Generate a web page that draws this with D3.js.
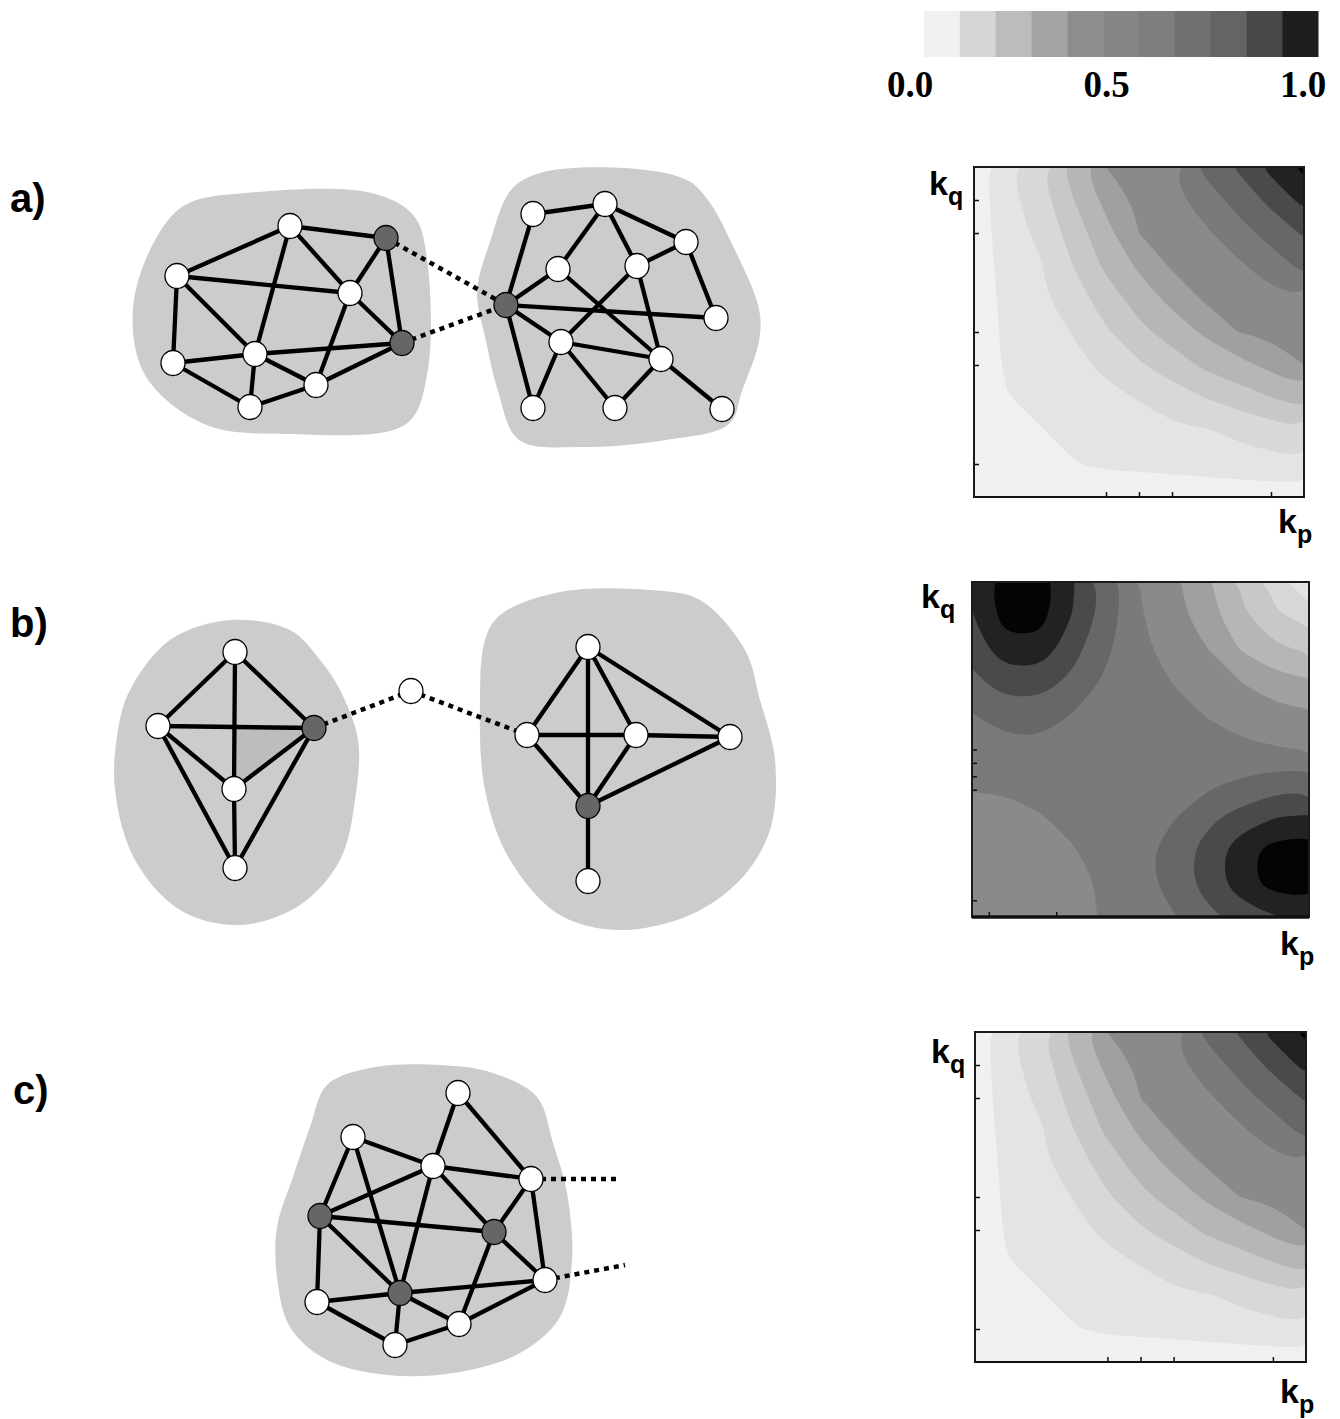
<!DOCTYPE html>
<html>
<head>
<meta charset="utf-8">
<script src="https://cdn.jsdelivr.net/npm/d3@7/dist/d3.min.js"></script>
<style>
  body { margin: 0; background: #fff; }
  svg { display: block; }
</style>
</head>
<body>
<div class="chart"></div>
<script>
// ---- colour legend ----
const legendColors = ['#f1f1f1', '#d6d6d6', '#bcbcbc', '#a4a4a4', '#8d8d8d', '#858585',
                      '#7e7e7e', '#717171', '#646464', '#484848', '#1e1e1e'];
const legendTicks = [0, 0.5, 1];
const legendLabels = ['0.0', '0.5', '1.0'];

// ---- contour maps (rows: k_q from top to bottom, columns: k_p left to right) ----
const bandThresholds = d3.range(1, 12).map(k => k / 12);
const bandColors = ['#f0f0f0', '#e4e4e4', '#d8d8d8', '#c8c8c8', '#b6b6b6', '#a0a0a0',
                    '#8a8a8a', '#7a7a7a', '#676767', '#4a4a4a', '#222222', '#040404'];

const gridA = [
  [0.04, 0.15, 0.24, 0.37, 0.50, 0.54, 0.58, 0.69, 0.76, 0.86, 0.94],
  [0.03, 0.14, 0.21, 0.33, 0.44, 0.52, 0.56, 0.62, 0.70, 0.77, 0.86],
  [0.02, 0.14, 0.18, 0.29, 0.39, 0.50, 0.53, 0.57, 0.63, 0.70, 0.76],
  [0.01, 0.13, 0.16, 0.25, 0.35, 0.43, 0.51, 0.54, 0.57, 0.62, 0.69],
  [0, 0.12, 0.15, 0.21, 0.29, 0.37, 0.44, 0.51, 0.53, 0.56, 0.58],
  [0, 0.11, 0.13, 0.17, 0.24, 0.31, 0.37, 0.43, 0.50, 0.52, 0.54],
  [0, 0.10, 0.12, 0.15, 0.18, 0.24, 0.29, 0.35, 0.39, 0.44, 0.50],
  [0, 0.08, 0.10, 0.12, 0.15, 0.17, 0.21, 0.25, 0.29, 0.33, 0.37],
  [0, 0.06, 0.08, 0.10, 0.12, 0.13, 0.15, 0.16, 0.18, 0.21, 0.24],
  [0, 0.03, 0.06, 0.08, 0.10, 0.11, 0.12, 0.13, 0.14, 0.14, 0.15],
  [0, 0, 0, 0, 0, 0, 0, 0.01, 0.02, 0.03, 0.04]
];
const gridB = [
  [0.84, 0.97, 0.97, 0.84, 0.72, 0.58, 0.52, 0.43, 0.32, 0.22, 0.08],
  [0.83, 0.95, 0.95, 0.83, 0.71, 0.59, 0.53, 0.45, 0.35, 0.26, 0.22],
  [0.78, 0.89, 0.89, 0.78, 0.68, 0.60, 0.55, 0.50, 0.41, 0.35, 0.32],
  [0.73, 0.78, 0.78, 0.73, 0.65, 0.62, 0.58, 0.54, 0.50, 0.45, 0.43],
  [0.66, 0.71, 0.71, 0.66, 0.64, 0.63, 0.61, 0.58, 0.55, 0.53, 0.52],
  [0.63, 0.63, 0.64, 0.64, 0.63, 0.63, 0.63, 0.62, 0.60, 0.59, 0.58],
  [0.59, 0.59, 0.61, 0.63, 0.63, 0.63, 0.64, 0.65, 0.68, 0.71, 0.72],
  [0.57, 0.57, 0.58, 0.60, 0.63, 0.64, 0.66, 0.73, 0.78, 0.83, 0.84],
  [0.56, 0.56, 0.57, 0.58, 0.61, 0.64, 0.71, 0.78, 0.89, 0.95, 0.97],
  [0.55, 0.55, 0.56, 0.57, 0.59, 0.63, 0.71, 0.78, 0.89, 0.95, 0.97],
  [0.53, 0.55, 0.56, 0.57, 0.59, 0.63, 0.66, 0.73, 0.78, 0.83, 0.84]
];
// panel c looks the same as panel a
const gridC = gridA;

const kpTicksA = [0.4, 0.5, 0.6, 0.9];
const kqTicksA = [0.1, 0.4, 0.5, 0.8, 0.9];
const kpTicksB = [0.05, 0.25];
const kqTicksB = [0.05, 0.38, 0.42, 0.46, 0.5];

// ---- networks (units of 10px inside each panel) ----
const nodesA = [
  { id: 'L1', x: 19.0, y: 6.6 }, { id: 'L2', x: 28.6, y: 7.8, hub: true },
  { id: 'L3', x: 7.7, y: 11.6 }, { id: 'L4', x: 25.0, y: 13.3 },
  { id: 'L5', x: 30.2, y: 18.3, hub: true }, { id: 'L6', x: 15.5, y: 19.4 },
  { id: 'L7', x: 7.3, y: 20.3 }, { id: 'L8', x: 21.6, y: 22.5 }, { id: 'L9', x: 15.0, y: 24.7 },
  { id: 'R1', x: 43.3, y: 5.4 }, { id: 'R2', x: 50.5, y: 4.4 }, { id: 'R3', x: 58.6, y: 8.2 },
  { id: 'R4', x: 45.8, y: 10.9 }, { id: 'R5', x: 53.7, y: 10.6 },
  { id: 'R6', x: 40.6, y: 14.5, hub: true }, { id: 'R7', x: 61.6, y: 15.8 },
  { id: 'R8', x: 46.1, y: 18.2 }, { id: 'R9', x: 56.1, y: 19.9 },
  { id: 'R10', x: 43.3, y: 24.8 }, { id: 'R11', x: 51.5, y: 24.8 }, { id: 'R12', x: 62.2, y: 24.9 }
];
const edgesA = [
  ['L3', 'L1'], ['L1', 'L2'], ['L3', 'L4'], ['L3', 'L6'], ['L3', 'L7'], ['L1', 'L6'],
  ['L1', 'L4'], ['L2', 'L4'], ['L2', 'L5'], ['L4', 'L5'], ['L4', 'L8'], ['L6', 'L5'],
  ['L7', 'L6'], ['L7', 'L9'], ['L6', 'L9'], ['L6', 'L8'], ['L9', 'L8'], ['L8', 'L5'],
  ['R1', 'R2'], ['R1', 'R6'], ['R2', 'R3'], ['R2', 'R4'], ['R2', 'R5'], ['R3', 'R5'],
  ['R3', 'R7'], ['R4', 'R6'], ['R4', 'R9'], ['R5', 'R8'], ['R5', 'R9'], ['R6', 'R7'],
  ['R6', 'R8'], ['R6', 'R10'], ['R8', 'R9'], ['R8', 'R10'], ['R8', 'R11'], ['R9', 'R11'], ['R9', 'R12']
];
const dashesA = [['L2', 'R6'], ['L5', 'R6']];
const blobsA = [
  [[8.5, 4.5], [14.6, 3.3], [27.2, 3.3], [31.4, 5.6], [32.7, 9.9], [32.7, 21.5], [30.6, 26.4],
   [18.8, 27.4], [10.4, 26.4], [4.5, 21.5], [3.3, 14.9], [5.4, 8.2]],
  [[41.1, 3.0], [44.0, 1.3], [52.4, 0.8], [58.7, 2.0], [60.8, 4.0], [63.3, 8.6], [65.9, 14.9],
   [65.9, 18.1], [64.2, 23.1], [62.9, 26.4], [56.6, 28.0], [48.2, 28.7], [41.9, 28.0],
   [39.8, 23.1], [38.6, 18.1], [37.7, 13.2], [39.0, 8.2]]
];

const nodesB = [
  { id: 'B1', x: 13.5, y: 7.2 }, { id: 'B2', x: 5.8, y: 14.6 }, { id: 'B3', x: 21.4, y: 14.8, hub: true },
  { id: 'B4', x: 13.4, y: 20.9 }, { id: 'B5', x: 13.5, y: 28.8 },
  { id: 'M', x: 31.1, y: 11.1 },
  { id: 'C1', x: 42.7, y: 15.5 }, { id: 'C2', x: 48.8, y: 6.7 }, { id: 'C3', x: 53.6, y: 15.5 },
  { id: 'C4', x: 63.0, y: 15.7 }, { id: 'C5', x: 48.8, y: 22.6, hub: true }, { id: 'C6', x: 48.8, y: 30.1 }
];
const edgesB = [
  ['B1', 'B2'], ['B1', 'B3'], ['B1', 'B4'], ['B2', 'B3'], ['B2', 'B4'], ['B3', 'B4'],
  ['B2', 'B5'], ['B3', 'B5'], ['B4', 'B5'],
  ['C2', 'C1'], ['C2', 'C5'], ['C2', 'C3'], ['C2', 'C4'], ['C1', 'C3'], ['C3', 'C4'],
  ['C1', 'C5'], ['C3', 'C5'], ['C4', 'C5'], ['C5', 'C6']
];
const dashesB = [['B3', 'M'], ['M', 'C1']];
const blobsB = [
  [[3.0, 11.0], [7.0, 6.0], [13.0, 4.0], [19.0, 5.0], [22.0, 8.0], [24.0, 11.0], [25.8, 16.0],
   [25.5, 22.0], [24.0, 28.0], [20.0, 32.5], [14.0, 34.5], [8.0, 33.0], [3.5, 28.0], [1.5, 21.0], [1.8, 15.0]],
  [[40.0, 3.5], [46.0, 1.2], [55.0, 1.0], [60.0, 2.0], [64.5, 7.0], [66.0, 12.0], [67.5, 18.0],
   [67.0, 25.0], [64.0, 30.0], [59.0, 33.5], [52.0, 35.0], [46.0, 33.5], [41.0, 28.0],
   [38.5, 21.0], [38.0, 12.0], [38.5, 6.0]]
];

const nodesC = [
  { id: 'P1', x: 35.8, y: 5.3 }, { id: 'P2', x: 25.3, y: 9.7 }, { id: 'P3', x: 33.3, y: 12.6 },
  { id: 'P4', x: 43.1, y: 13.9 }, { id: 'P5', x: 22.0, y: 17.6, hub: true },
  { id: 'P6', x: 39.4, y: 19.2, hub: true }, { id: 'P7', x: 44.5, y: 24.0 },
  { id: 'P8', x: 30.0, y: 25.3, hub: true }, { id: 'P9', x: 21.7, y: 26.2 },
  { id: 'P10', x: 35.9, y: 28.4 }, { id: 'P11', x: 29.5, y: 30.5 }
];
const edgesC = [
  ['P1', 'P3'], ['P1', 'P4'], ['P2', 'P3'], ['P2', 'P5'], ['P2', 'P8'], ['P3', 'P4'],
  ['P3', 'P5'], ['P3', 'P8'], ['P3', 'P6'], ['P4', 'P6'], ['P4', 'P7'], ['P5', 'P6'],
  ['P5', 'P8'], ['P5', 'P9'], ['P6', 'P7'], ['P6', 'P10'], ['P8', 'P7'], ['P8', 'P9'],
  ['P8', 'P10'], ['P8', 'P11'], ['P9', 'P11'], ['P10', 'P11'], ['P10', 'P7']
];
const stubsC = [{ from: 'P4', x: 52.0, y: 13.9 }, { from: 'P7', x: 52.5, y: 22.5 }];
const blobsC = [
  [[22.7, 4.5], [27.0, 2.8], [34.0, 2.5], [39.3, 3.3], [43.7, 5.7], [45.3, 10.3], [46.7, 15.3],
   [47.2, 22.0], [46.0, 27.7], [42.0, 31.3], [35.3, 33.3], [28.7, 33.5], [22.7, 32.0],
   [19.0, 28.7], [17.7, 23.7], [17.7, 18.7], [19.3, 13.7], [21.0, 8.7]]
];

const W = 1340, H = 1419;
const svg = d3.select('.chart').append('svg').attr('width', W).attr('height', H);

// ---- legend ----
const legendX = d3.scaleBand().domain(d3.range(legendColors.length)).range([924, 1318]);
svg.append('g').selectAll('rect').data(legendColors).join('rect')
  .attr('x', (d, i) => legendX(i)).attr('y', 11)
  .attr('width', legendX.bandwidth() + 0.5).attr('height', 46)
  .attr('fill', d => d);
const legendPos = d3.scaleLinear().domain([0, 1]).range([910, 1303]);
svg.append('g').selectAll('text').data(legendTicks).join('text')
  .attr('x', d => legendPos(d)).attr('y', 97)
  .attr('text-anchor', 'middle')
  .style('font-family', '"Liberation Serif", "Times New Roman", serif')
  .style('font-weight', 'bold').style('font-size', '37px')
  .text((d, i) => legendLabels[i]);

// ---- contour panels ----
function drawHeat(id, grid, box, xt, yt, labels) {
  const g = svg.append('g');
  const n = grid[0].length, m = grid.length;
  const gx = d3.scaleLinear().domain([0.5, n - 0.5]).range([box.x0, box.x1]);
  const gy = d3.scaleLinear().domain([0.5, m - 0.5]).range([box.y0, box.y1]);
  // smooth the marching-squares rings a little
  const ringLine = d3.line().x(p => gx(p[0])).y(p => gy(p[1])).curve(d3.curveBasisClosed);
  const bandPath = mp => mp.coordinates
    .map(poly => poly.map(ring => ringLine(ring.slice(0, -1))).join('')).join('');

  g.append('clipPath').attr('id', id).append('rect')
    .attr('x', box.x0).attr('y', box.y0)
    .attr('width', box.x1 - box.x0).attr('height', box.y1 - box.y0);
  const layer = g.append('g').attr('clip-path', `url(#${id})`);
  layer.append('rect')
    .attr('x', box.x0).attr('y', box.y0)
    .attr('width', box.x1 - box.x0).attr('height', box.y1 - box.y0)
    .attr('fill', bandColors[0]);
  const bands = d3.contours().size([n, m]).thresholds(bandThresholds)(grid.flat());
  layer.selectAll('path').data(bands).join('path')
    .attr('d', bandPath)
    .attr('fill', (d, i) => bandColors[i + 1]);

  const u = d3.scaleLinear().domain([0, 1]).range([box.x0, box.x1]);
  const v = d3.scaleLinear().domain([0, 1]).range([box.y1, box.y0]);
  const ax = g.append('g').attr('transform', `translate(0,${box.y1})`)
    .call(d3.axisBottom(u).tickValues(xt).tickSizeInner(-5).tickSizeOuter(0).tickFormat(''));
  const ay = g.append('g').attr('transform', `translate(${box.x0},0)`)
    .call(d3.axisLeft(v).tickValues(yt).tickSizeInner(-5).tickSizeOuter(0).tickFormat(''));
  [ax, ay].forEach(a => {
    a.select('.domain').remove();
    a.selectAll('line').attr('stroke', '#111').attr('stroke-width', 1.5);
  });
  g.append('rect')
    .attr('x', box.x0).attr('y', box.y0)
    .attr('width', box.x1 - box.x0).attr('height', box.y1 - box.y0)
    .attr('fill', 'none').attr('stroke', '#1a1a1a').attr('stroke-width', 2);
  g.append('line')
    .attr('x1', box.x0).attr('x2', box.x1).attr('y1', box.y1).attr('y2', box.y1)
    .attr('stroke', '#111').attr('stroke-width', box.thick || 2);

  const font = '"Liberation Sans", Arial, sans-serif';
  const kq = g.append('text').attr('x', labels.q[0]).attr('y', labels.q[1])
    .style('font-family', font).style('font-weight', 'bold').style('font-size', '34px');
  kq.append('tspan').text('k');
  kq.append('tspan').attr('dy', 10).style('font-size', '25px').text('q');
  const kp = g.append('text').attr('x', labels.p[0]).attr('y', labels.p[1])
    .style('font-family', font).style('font-weight', 'bold').style('font-size', '34px');
  kp.append('tspan').text('k');
  kp.append('tspan').attr('dy', 10).style('font-size', '25px').text('p');
}

drawHeat('clipA', gridA, { x0: 974, x1: 1304, y0: 167, y1: 497 }, kpTicksA, kqTicksA,
  { q: [929, 195], p: [1278, 533] });
drawHeat('clipB', gridB, { x0: 972, x1: 1309, y0: 582, y1: 917, thick: 3.5 }, kpTicksB, kqTicksB,
  { q: [921, 608], p: [1280, 955] });
drawHeat('clipC', gridC, { x0: 975, x1: 1306, y0: 1032, y1: 1362 }, kpTicksA, kqTicksA,
  { q: [931, 1063], p: [1280, 1403] });

// ---- networks ----
const xNet = d3.scaleLinear().domain([0, 70]).range([100, 800]);

function drawNetwork(y0, nodes, edges, dashes, blobs, stubs, shade) {
  const yNet = d3.scaleLinear().domain([0, 35]).range([y0, y0 + 350]);
  const byId = new Map(nodes.map(d => [d.id, d]));
  const g = svg.append('g');
  const outline = d3.line().x(d => xNet(d[0])).y(d => yNet(d[1]))
    .curve(d3.curveCatmullRomClosed.alpha(0.5));
  g.selectAll('.blob').data(blobs).join('path')
    .attr('class', 'blob').attr('d', outline).attr('fill', '#cccccc');

  if (shade) {
    const a = byId.get(shade[0]), b = byId.get(shade[1]);
    g.append('path')
      .attr('d', `M${xNet(b.x)},${yNet(a.y)}L${xNet(a.x)},${yNet(a.y)}L${xNet(b.x)},${yNet(b.y)}Z`)
      .attr('fill', '#bdbdbd');
  }

  g.selectAll('.edge').data(edges).join('line')
    .attr('class', 'edge')
    .attr('x1', d => xNet(byId.get(d[0]).x)).attr('y1', d => yNet(byId.get(d[0]).y))
    .attr('x2', d => xNet(byId.get(d[1]).x)).attr('y2', d => yNet(byId.get(d[1]).y))
    .attr('stroke', '#000').attr('stroke-width', 4.3);

  const dashData = dashes.map(d => [byId.get(d[0]), byId.get(d[1])])
    .concat(stubs.map(s => [byId.get(s.from), s]));
  g.selectAll('.dash').data(dashData).join('line')
    .attr('class', 'dash')
    .attr('x1', d => xNet(d[0].x)).attr('y1', d => yNet(d[0].y))
    .attr('x2', d => xNet(d[1].x)).attr('y2', d => yNet(d[1].y))
    .attr('stroke', '#000').attr('stroke-width', 4.5)
    .attr('stroke-dasharray', '5 5');

  g.selectAll('.node').data(nodes).join('ellipse')
    .attr('class', 'node')
    .attr('cx', d => xNet(d.x)).attr('cy', d => yNet(d.y))
    .attr('rx', 12).attr('ry', 12.5)
    .attr('fill', d => d.hub ? '#666666' : '#ffffff')
    .attr('stroke', '#000').attr('stroke-width', 1.3);
}

drawNetwork(160, nodesA, edgesA, dashesA, blobsA, [], null);
drawNetwork(580, nodesB, edgesB, dashesB, blobsB, [], ['B3', 'B4']);
drawNetwork(1040, nodesC, edgesC, [], blobsC, stubsC, null);

// ---- panel letters ----
svg.append('g').selectAll('text')
  .data([{ t: 'a)', y: 212, x: 10 }, { t: 'b)', y: 637, x: 10 }, { t: 'c)', y: 1104, x: 13 }])
  .join('text')
  .attr('x', d => d.x).attr('y', d => d.y)
  .style('font-family', '"Liberation Sans", Arial, sans-serif')
  .style('font-weight', 'bold').style('font-size', '40px')
  .text(d => d.t);
</script>
</body>
</html>
